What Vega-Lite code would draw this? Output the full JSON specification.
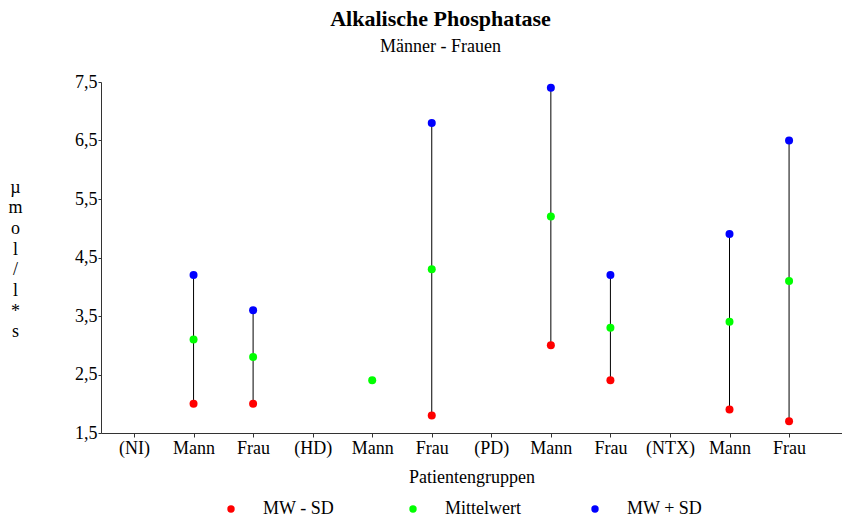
{
  "$schema": "https://vega.github.io/schema/vega-lite/v6.json",
  "width": 741,
  "height": 351,
  "autosize": {"type": "none"},
  "padding": {"left": 101, "top": 82, "right": 0, "bottom": 86},
  "background": "white",
  "title": {
    "text": "Alkalische Phosphatase",
    "subtitle": "Männer - Frauen",
    "font": "Liberation Serif",
    "fontSize": 22,
    "fontWeight": "bold",
    "color": "black",
    "subtitleFont": "Liberation Serif",
    "subtitleFontSize": 18,
    "subtitleColor": "black",
    "subtitlePadding": 7,
    "anchor": "middle",
    "dx": -31,
    "offset": 16
  },
  "config": {
    "view": {"stroke": null},
    "font": "Liberation Serif",
    "axis": {
      "labelFont": "Liberation Serif",
      "titleFont": "Liberation Serif",
      "labelColor": "black",
      "titleColor": "black",
      "labelFontSize": 18,
      "titleFontSize": 18,
      "titleFontWeight": "normal",
      "domainColor": "#333333",
      "tickColor": "#333333",
      "grid": false
    },
    "legend": {
      "labelFont": "Liberation Serif",
      "labelColor": "black"
    }
  },
  "data": {
    "values": [
      {"gruppe": "Mann NI", "kennwert": "MW - SD", "wert": 2.0},
      {"gruppe": "Mann NI", "kennwert": "Mittelwert", "wert": 3.1},
      {"gruppe": "Mann NI", "kennwert": "MW + SD", "wert": 4.2},
      {"gruppe": "Frau NI", "kennwert": "MW - SD", "wert": 2.0},
      {"gruppe": "Frau NI", "kennwert": "Mittelwert", "wert": 2.8},
      {"gruppe": "Frau NI", "kennwert": "MW + SD", "wert": 3.6},
      {"gruppe": "Mann HD", "kennwert": "Mittelwert", "wert": 2.4},
      {"gruppe": "Frau HD", "kennwert": "MW - SD", "wert": 1.8},
      {"gruppe": "Frau HD", "kennwert": "Mittelwert", "wert": 4.3},
      {"gruppe": "Frau HD", "kennwert": "MW + SD", "wert": 6.8},
      {"gruppe": "Mann PD", "kennwert": "MW - SD", "wert": 3.0},
      {"gruppe": "Mann PD", "kennwert": "Mittelwert", "wert": 5.2},
      {"gruppe": "Mann PD", "kennwert": "MW + SD", "wert": 7.4},
      {"gruppe": "Frau PD", "kennwert": "MW - SD", "wert": 2.4},
      {"gruppe": "Frau PD", "kennwert": "Mittelwert", "wert": 3.3},
      {"gruppe": "Frau PD", "kennwert": "MW + SD", "wert": 4.2},
      {"gruppe": "Mann NTX", "kennwert": "MW - SD", "wert": 1.9},
      {"gruppe": "Mann NTX", "kennwert": "Mittelwert", "wert": 3.4},
      {"gruppe": "Mann NTX", "kennwert": "MW + SD", "wert": 4.9},
      {"gruppe": "Frau NTX", "kennwert": "MW - SD", "wert": 1.7},
      {"gruppe": "Frau NTX", "kennwert": "Mittelwert", "wert": 4.1},
      {"gruppe": "Frau NTX", "kennwert": "MW + SD", "wert": 6.5}
    ]
  },
  "encoding": {
    "x": {
      "field": "gruppe",
      "type": "ordinal",
      "sort": null,
      "scale": {
        "type": "point",
        "domain": ["(NI)", "Mann NI", "Frau NI", "(HD)", "Mann HD", "Frau HD", "(PD)", "Mann PD", "Frau PD", "(NTX)", "Mann NTX", "Frau NTX"],
        "padding": 0.7215,
        "align": 0.384
      },
      "axis": {
        "title": "Patientengruppen",
        "labelExpr": "split(datum.value, ' ')[0]",
        "labelAngle": 0,
        "labelOverlap": false,
        "labelPadding": 2,
        "tickSize": 4,
        "titlePadding": 11
      }
    }
  },
  "layer": [
    {
      "mark": {"type": "rule", "color": "black", "strokeWidth": 1},
      "encoding": {
        "y": {"aggregate": "min", "field": "wert", "type": "quantitative"},
        "y2": {"aggregate": "max", "field": "wert"}
      }
    },
    {
      "mark": {"type": "circle", "size": 64, "opacity": 1},
      "encoding": {
        "y": {
          "field": "wert",
          "type": "quantitative",
          "scale": {"domain": [1.5, 7.5], "nice": false, "zero": false},
          "axis": {
            "values": [1.5, 2.5, 3.5, 4.5, 5.5, 6.5, 7.5],
            "labelExpr": "replace(format(datum.value, '.1f'), '.', ',')",
            "labelPadding": 1,
            "tickSize": 3,
            "title": ["µ", "m", "o", "l", "/", "l", "*", "s"],
            "titleAngle": 0,
            "titleAlign": "center",
            "titleBaseline": "top",
            "titleX": -86,
            "titleY": 96,
            "titleLineHeight": 20.7
          }
        },
        "color": {
          "field": "kennwert",
          "type": "nominal",
          "scale": {
            "domain": ["MW - SD", "Mittelwert", "MW + SD"],
            "range": ["#ff0000", "#00ff00", "#0000ff"]
          },
          "legend": {
            "title": null,
            "orient": "none",
            "direction": "horizontal",
            "legendX": 121,
            "legendY": 418,
            "padding": 0,
            "gridAlign": "all",
            "columnPadding": 65,
            "symbolType": "circle",
            "symbolSize": 55,
            "symbolStrokeWidth": 0,
            "labelFontSize": 18,
            "labelOffset": 23
          }
        }
      }
    }
  ]
}
